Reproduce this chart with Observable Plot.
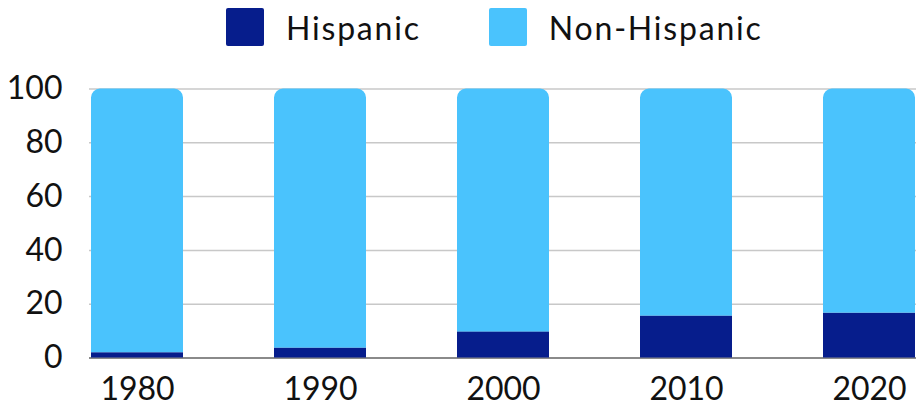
<!DOCTYPE html>
<html><head><meta charset="utf-8">
<script src="https://cdn.jsdelivr.net/npm/d3@7"></script>
<script src="https://cdn.jsdelivr.net/npm/@observablehq/plot@0.6"></script>
<style>
html,body{margin:0;padding:0;background:#fff;}
#wrap{width:916px;height:408px;position:relative;font-family:Lato,sans-serif;}
#legend{position:absolute;top:0;left:226px;height:60px;display:flex;align-items:flex-start;}
.item{display:flex;align-items:center;height:54px;margin-right:68px;}
.sw{width:38px;height:38px;border-radius:2px;margin-right:22px;}
.lab{font-size:32px;color:#111;letter-spacing:1.8px;}
#chart{position:absolute;top:60px;left:0;}
</style></head>
<body><div id="wrap"><div id="legend"></div><div id="chart"></div></div>
<script>
const years = ["1980","1990","2000","2010","2020"];
const hispanic = [1.9, 3.6, 9.6, 15.5, 16.6];
const nonHispanic = [98.1, 96.4, 90.4, 84.5, 83.4];
const seriesNames = ["Hispanic","Non-Hispanic"];
const seriesColors = ["#061D8C","#4AC3FD"];
const yTicks = [0,20,40,60,80,100];

const rows = years.map((y,i)=>({year:y, h:hispanic[i], nh:nonHispanic[i]}));

const legend = document.getElementById("legend");
seriesNames.forEach((n,i)=>{
  const it=document.createElement("div");it.className="item";
  it.innerHTML=`<div class="sw" style="background:${seriesColors[i]}"></div><div class="lab">${n}</div>`;
  legend.appendChild(it);
});

const plot = Plot.plot({
  width:916, height:348,
  marginLeft:89, marginRight:0, marginTop:28.5, marginBottom:50.5,
  style:{fontFamily:"Lato, sans-serif", fontSize:"32px", color:"#111", background:"#fff"},
  x:{domain:years, paddingInner:0.5, paddingOuter:0, label:null, tickSize:0, tickPadding:19},
  y:{domain:[0,100], ticks:yTicks, label:null, tickSize:0, tickPadding:27},
  marks:[
    Plot.gridY(yTicks.filter(t=>t>0), {stroke:"#c8c8c8", strokeOpacity:1, strokeWidth:1.5}),
    Plot.barY(rows, {x:"year", y1:d=>d.h, y2:d=>d.h+d.nh, fill:seriesColors[1], ry1:9}),
    Plot.ruleY([0], {stroke:"#8a8a8a", strokeWidth:2}),
    Plot.barY(rows, {x:"year", y1:0, y2:"h", fill:seriesColors[0]})
  ]
});
document.getElementById("chart").appendChild(plot);
</script></body></html>
